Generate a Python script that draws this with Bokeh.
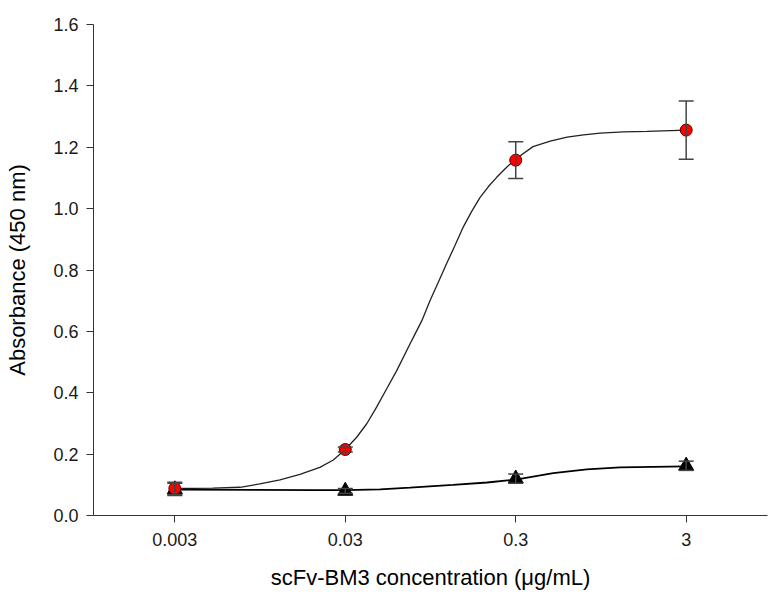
from bokeh.plotting import figure
from bokeh.models import ColumnDataSource, Whisker, TeeHead, FixedTicker, Range1d, NumeralTickFormatter
from bokeh.embed import file_html
from bokeh.resources import INLINE

# Measured points (scFv-BM3 concentration, µg/mL)
conc = [0.003, 0.03, 0.3, 3]
red_mean = [0.088, 0.215, 1.158, 1.256]
red_err = [0.020, 0.008, 0.060, 0.095]
black_mean = [0.085, 0.080, 0.120, 0.162]
black_err = [0.020, 0.008, 0.015, 0.015]

# Fitted curves
red_curve_x = [0.003, 0.005, 0.00723, 0.00946, 0.01242, 0.01626, 0.02128, 0.02553, 0.03,
               0.035, 0.0401, 0.0458, 0.0525, 0.0601, 0.0736, 0.0844, 0.0942, 0.1054,
               0.118, 0.132, 0.147, 0.1655, 0.185, 0.2075, 0.232, 0.260, 0.297, 0.379,
               0.478, 0.601, 0.750, 0.94, 1.286, 1.77, 3]
red_curve_y = [0.088, 0.089, 0.092, 0.103, 0.116, 0.134, 0.157, 0.181, 0.215,
               0.255, 0.299, 0.353, 0.413, 0.472, 0.570, 0.635, 0.700, 0.760,
               0.821, 0.880, 0.938, 0.991, 1.036, 1.072, 1.102, 1.130, 1.160, 1.202,
               1.220, 1.233, 1.240, 1.246, 1.250, 1.252, 1.256]
black_curve_x = [0.003, 0.0194, 0.03, 0.048, 0.0719, 0.1285, 0.2037, 0.3, 0.498, 0.783, 1.23, 3]
black_curve_y = [0.084, 0.083, 0.083, 0.085, 0.091, 0.100, 0.1075, 0.117, 0.138, 0.150, 0.157, 0.160]

x_ticks = [0.003, 0.03, 0.3, 3]
x_tick_labels = ["0.003", "0.03", "0.3", "3"]
y_ticks = [0.0, 0.2, 0.4, 0.6, 0.8, 1.0, 1.2, 1.4, 1.6]

FONT = "Liberation Sans"

p = figure(width=768, height=602, x_axis_type="log",
           x_range=Range1d(0.001, 9.0), y_range=Range1d(0, 1.6),
           output_backend="svg", toolbar_location=None,
           min_border_left=93, min_border_right=1, min_border_top=24, min_border_bottom=87)
p.outline_line_color = None
p.xgrid.visible = False
p.ygrid.visible = False
p.background_fill_color = "white"
p.border_fill_color = "white"

red_src = ColumnDataSource(dict(x=conc, y=red_mean,
                                lo=[m - e for m, e in zip(red_mean, red_err)],
                                hi=[m + e for m, e in zip(red_mean, red_err)]))
blk_src = ColumnDataSource(dict(x=conc, y=black_mean,
                                lo=[m - e for m, e in zip(black_mean, black_err)],
                                hi=[m + e for m, e in zip(black_mean, black_err)]))

p.line(red_curve_x, red_curve_y, line_color="#222222", line_width=1.3)
p.line(black_curve_x, black_curve_y, line_color="black", line_width=1.8)

for src in (red_src, blk_src):
    w = Whisker(source=src, base="x", lower="lo", upper="hi", line_color="#444444", line_width=1.5,
                upper_head=TeeHead(size=15, line_color="#444444", line_width=1.5),
                lower_head=TeeHead(size=15, line_color="#444444", line_width=1.5))
    w.level = "glyph"
    p.add_layout(w)

p.scatter("x", "y", source=blk_src, marker="triangle", size=15, fill_color="black", line_color="black")
p.scatter("x", "y", source=red_src, marker="circle", size=12, fill_color="red", line_color="#5a0000", line_width=1)

for ax in (p.xaxis[0], p.yaxis[0]):
    ax.axis_line_color = "#333333"
    ax.major_tick_line_color = "#333333"
    ax.major_tick_out = 7
    ax.major_tick_in = 0
    ax.minor_tick_line_color = None
    ax.major_label_text_font = FONT
    ax.major_label_text_font_size = "18px"
    ax.major_label_text_color = "#1a1a1a"
    ax.axis_label_text_font = FONT
    ax.axis_label_text_font_size = "22px"
    ax.axis_label_text_font_style = "normal"
    ax.axis_label_text_color = "black"

p.xaxis.ticker = FixedTicker(ticks=x_ticks)
p.xaxis.major_label_overrides = {t: l for t, l in zip(x_ticks, x_tick_labels)}
p.xaxis.major_label_standoff = 10
p.xaxis.axis_label = "scFv-BM3 concentration (μg/mL)"
p.xaxis.axis_label_standoff = 16

p.yaxis.ticker = FixedTicker(ticks=y_ticks)
p.yaxis.formatter = NumeralTickFormatter(format="0.0")
p.yaxis.major_label_standoff = 8
p.yaxis.axis_label = "Absorbance (450 nm)"
p.yaxis.axis_label_standoff = 20

open("out.html", "w").write(file_html(p, INLINE))
